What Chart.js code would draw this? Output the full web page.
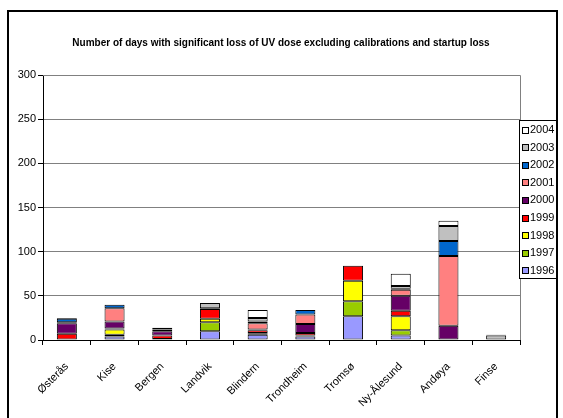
<!DOCTYPE html>
<html>
<head>
<meta charset="utf-8">
<script src="https://cdn.jsdelivr.net/npm/chart.js@4/dist/chart.umd.min.js"></script>
<style>
  html, body { margin: 0; padding: 0; background: #fff; }
  canvas { display: block; }
</style>
</head>
<body>
<canvas id="c" width="563" height="418"></canvas>
<script>
// Stations along the x axis
const stations = ['Østerås', 'Kise', 'Bergen', 'Landvik', 'Blindern', 'Trondheim', 'Tromsø', 'Ny-Ålesund', 'Andøya', 'Finse'];

// Days lost per year at each station (stacked bottom to top: 1996 -> 2004)
const y1996 = [0, 4, 0, 10, 6, 4, 27, 5, 0, 0];
const y1997 = [0, 2, 1, 10, 1, 0, 17, 6, 0, 0];
const y1998 = [0, 6, 0, 4, 1, 1, 23, 16, 0, 0];
const y1999 = [7, 1, 4, 11, 3, 3, 17, 6, 0, 0];
const y2000 = [12, 8, 5, 1, 1, 10, 0, 17, 16, 0];
const y2001 = [1, 15, 0, 0, 7, 11, 0, 7, 79, 0];
const y2002 = [4, 4, 2, 0, 2, 5, 0, 1, 17, 0];
const y2003 = [1, 0, 2, 6, 4, 0, 0, 3, 17, 5];
const y2004 = [0, 0, 0, 0, 9, 0, 0, 14, 6, 1];

const years = ['1996', '1997', '1998', '1999', '2000', '2001', '2002', '2003', '2004'];
const yearValues = [y1996, y1997, y1998, y1999, y2000, y2001, y2002, y2003, y2004];
const yearColors = ['#9999FF', '#99CC00', '#FFFF00', '#FF0000', '#660066', '#FF8080', '#0066CC', '#C0C0C0', '#FFFFFF'];

// Y axis tick values
const yTicks = [0, 50, 100, 150, 200, 250, 300];

const chartTitle = 'Number of days with significant loss of UV dose excluding calibrations and startup loss';
const FONT = '"Liberation Sans", Arial, sans-serif';

const datasets = years.map((yr, i) => ({
  label: yr,
  data: yearValues[i],
  backgroundColor: yearColors[i],
  borderColor: '#000000',
  borderWidth: 1,
  borderSkipped: false,
  barPercentage: 0.42,
  categoryPercentage: 1.0
}));

// White page, outer frame and title
const framePlugin = {
  id: 'frame',
  beforeDraw(chart) {
    const ctx = chart.ctx;
    ctx.save();
    ctx.fillStyle = '#ffffff';
    ctx.fillRect(0, 0, chart.width, chart.height);
    ctx.strokeStyle = '#000000';
    ctx.lineWidth = 2;
    ctx.strokeRect(8, 11, 549, 420);
    ctx.fillStyle = '#000000';
    ctx.font = 'bold 10px ' + FONT;
    ctx.textAlign = 'center';
    ctx.textBaseline = 'middle';
    ctx.fillText(chartTitle, 281, 43);
    ctx.restore();
  },
  beforeDatasetsDraw(chart) {
    // plot area border
    const a = chart.chartArea;
    const ctx = chart.ctx;
    ctx.save();
    ctx.strokeStyle = '#808080';
    ctx.lineWidth = 1;
    ctx.beginPath();
    ctx.moveTo(a.left, Math.round(a.top) + 0.5);
    ctx.lineTo(Math.round(a.right) + 0.5, Math.round(a.top) + 0.5);
    ctx.lineTo(Math.round(a.right) + 0.5, a.bottom);
    ctx.stroke();
    ctx.restore();
  }
};

// Boxed legend listing the years from top (2004) to bottom (1996)
const legendPlugin = {
  id: 'boxLegend',
  afterDraw(chart) {
    const ctx = chart.ctx;
    ctx.save();
    const bx = 519.5, by = 120.5, bw = 37, bh = 158;
    ctx.fillStyle = '#ffffff';
    ctx.fillRect(bx, by, bw, bh);
    ctx.strokeStyle = '#000000';
    ctx.lineWidth = 1;
    ctx.strokeRect(bx, by, bw, bh);
    ctx.font = '11px ' + FONT;
    ctx.textAlign = 'left';
    ctx.textBaseline = 'middle';
    const n = chart.data.datasets.length;
    for (let k = 0; k < n; k++) {
      const ds = chart.data.datasets[n - 1 - k];
      const cy = 129.5 + k * 17.6;
      ctx.fillStyle = ds.backgroundColor;
      ctx.fillRect(522.5, Math.round(cy - 3) + 0.5, 6, 6);
      ctx.strokeStyle = '#000000';
      ctx.strokeRect(522.5, Math.round(cy - 3) + 0.5, 6, 6);
      ctx.fillStyle = '#000000';
      ctx.fillText(ds.label, 530, cy + 0.5);
    }
    ctx.restore();
  }
};

new Chart(document.getElementById('c'), {
  type: 'bar',
  data: { labels: stations, datasets: datasets },
  options: {
    responsive: false,
    animation: false,
    devicePixelRatio: 1,
    layout: { padding: { left: 0, top: 75, right: 43, bottom: 0 } },
    plugins: {
      legend: { display: false },
      title: { display: false },
      tooltip: { enabled: false }
    },
    scales: {
      x: {
        stacked: true,
        afterFit(scale) { scale.height = 78; },
        grid: {
          display: true,
          offset: true,
          drawOnChartArea: false,
          drawTicks: true,
          tickLength: 5,
          tickColor: '#000000'
        },
        border: { display: true, color: '#000000', width: 1 },
        ticks: {
          color: '#000000',
          font: { family: FONT, size: 11 },
          minRotation: 45,
          maxRotation: 45,
          autoSkip: false,
          padding: 15
        }
      },
      y: {
        stacked: true,
        min: 0,
        max: 300,
        afterFit(scale) { scale.width = 43; },
        afterBuildTicks(scale) { scale.ticks = yTicks.map(v => ({ value: v })); },
        grid: {
          color: '#808080',
          lineWidth: 1,
          drawTicks: true,
          tickLength: 5,
          tickColor: '#000000'
        },
        border: { display: true, color: '#000000', width: 1 },
        ticks: {
          color: '#000000',
          font: { family: FONT, size: 11 },
          padding: 2
        }
      }
    }
  },
  plugins: [framePlugin, legendPlugin]
});
</script>
</body>
</html>
